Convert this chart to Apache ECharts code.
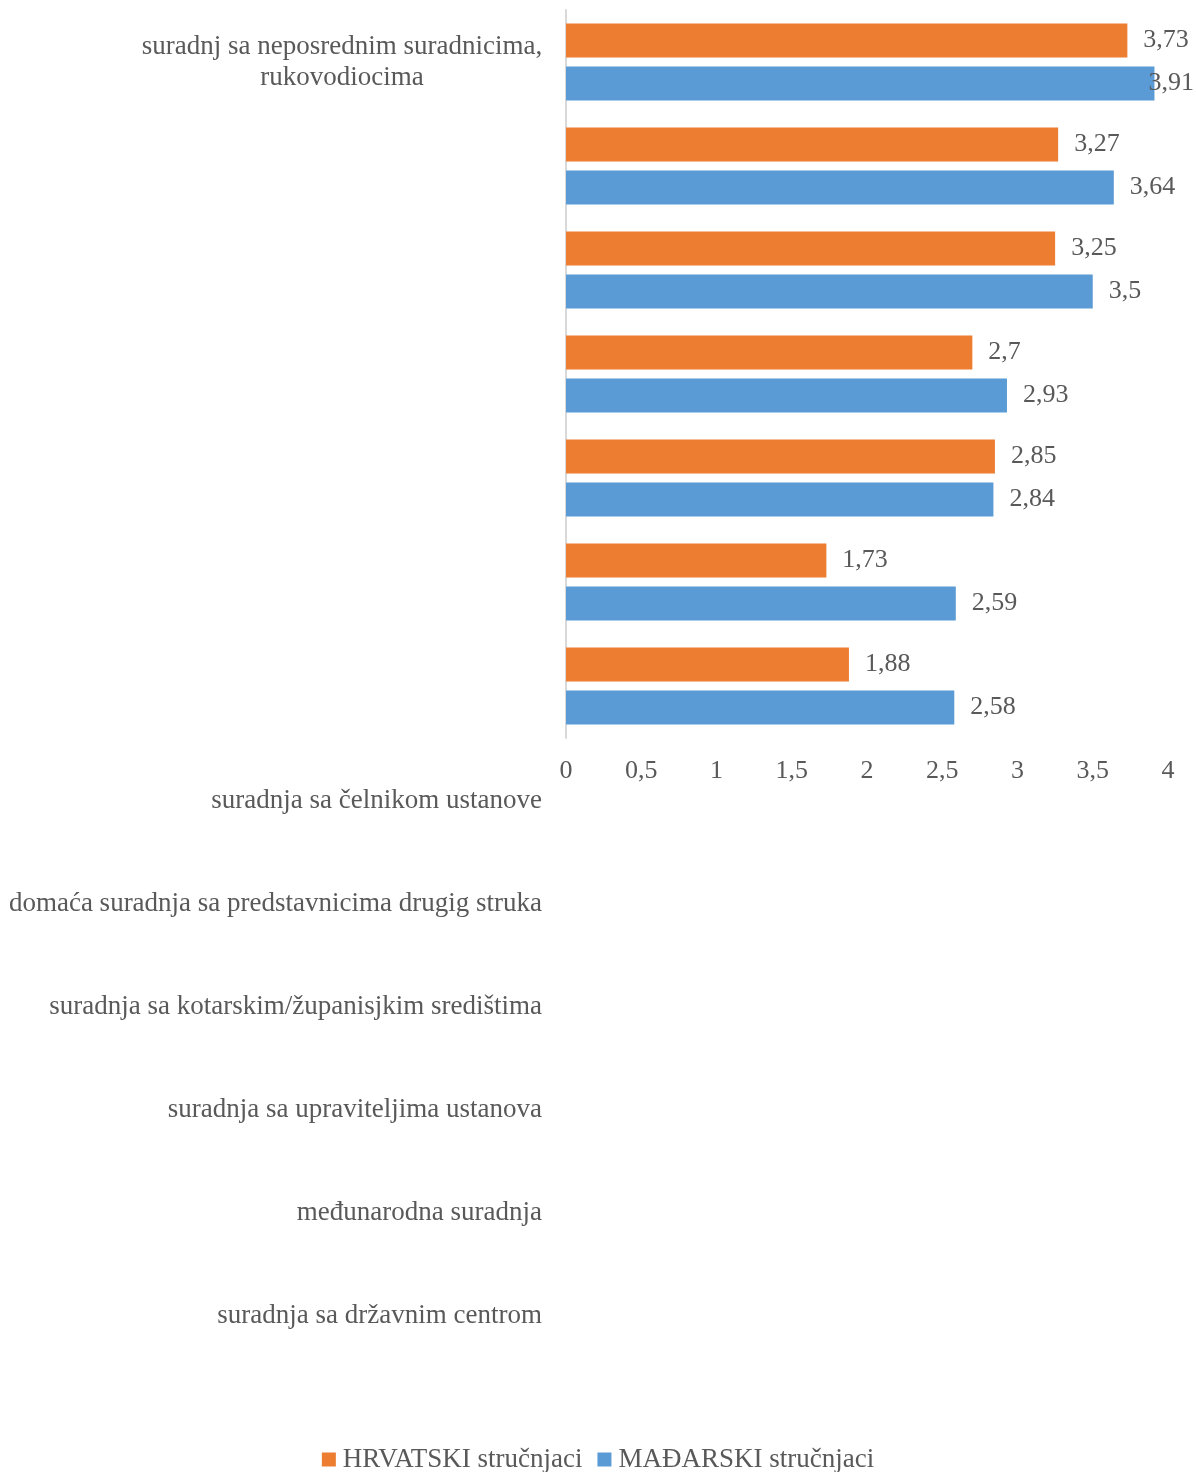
<!DOCTYPE html>
<html>
<head>
<meta charset="utf-8">
<script src="https://cdn.jsdelivr.net/npm/echarts@6/dist/echarts.min.js"></script>
<style>
  html, body { margin: 0; padding: 0; background: #ffffff; }
  #chart { width: 1196px; height: 1472px; }
</style>
</head>
<body>
<div id="chart"></div>
<script>
// Oblici suradnje – prosječne ocjene po skupini stručnjaka
const firstCategory = 'suradnj sa neposrednim suradnicima,\nrukovodiocima';
const otherCategories = [
  'suradnja sa čelnikom ustanove',
  'domaća suradnja sa predstavnicima drugig struka',
  'suradnja sa kotarskim/županisjkim središtima',
  'suradnja sa upraviteljima ustanova',
  'međunarodna suradnja',
  'suradnja sa državnim centrom'
];
const categories = [firstCategory].concat(otherCategories);

const hrvatski = [3.73, 3.27, 3.25, 2.70, 2.85, 1.73, 1.88];
const madarski = [3.91, 3.64, 3.50, 2.93, 2.84, 2.59, 2.58];

const seriesNames = ['HRVATSKI stručnjaci', 'MAĐARSKI stručnjaci'];
const xTicks = { min: 0, max: 4, interval: 0.5 };

const FONT = 'Liberation Serif';
const TEXT = '#595959';
const fmtNum = v => String(v).replace('.', ',');

const chart = echarts.init(document.getElementById('chart'), null, { renderer: 'canvas' });

const valueLabel = {
  show: true,
  position: 'right',
  distance: 16,
  offset: [0, 1],
  fontFamily: FONT,
  fontSize: 26,
  color: TEXT,
  formatter: p => fmtNum(p.value)
};

chart.setOption({
  animation: false,
  backgroundColor: '#ffffff',
  textStyle: { fontFamily: FONT },
  color: ['#ED7D31', '#5B9BD5'],
  legend: {
    top: 1441,
    left: 'center',
    itemWidth: 14,
    itemHeight: 14,
    itemGap: 15,
    icon: 'rect',
    textStyle: { fontFamily: FONT, fontSize: 27, color: TEXT, padding: [0, 0, 0, 2] },
    data: seriesNames
  },
  grid: [
    { left: 566, right: 28, top: 10, height: 728 },
    { left: 566, right: 28, top: 749, height: 618 }
  ],
  xAxis: [
    {
      gridIndex: 0,
      type: 'value',
      min: xTicks.min,
      max: xTicks.max,
      interval: xTicks.interval,
      axisLine: { show: false },
      axisTick: { show: false },
      splitLine: { show: false },
      axisLabel: {
        margin: 20,
        fontFamily: FONT,
        fontSize: 26,
        color: TEXT,
        formatter: v => fmtNum(v)
      }
    },
    {
      gridIndex: 1,
      type: 'value',
      show: false
    }
  ],
  yAxis: [
    {
      gridIndex: 0,
      type: 'category',
      inverse: true,
      data: categories,
      axisLine: { show: true, lineStyle: { color: '#d9d9d9', width: 2 } },
      axisTick: { show: false },
      axisLabel: {
        margin: 224,
        align: 'center',
        fontFamily: FONT,
        fontSize: 27,
        lineHeight: 31,
        color: TEXT,
        formatter: (v, i) => (i === 0 ? v : '')
      }
    },
    {
      gridIndex: 1,
      type: 'category',
      inverse: true,
      data: otherCategories,
      axisLine: { show: false },
      axisTick: { show: false },
      axisLabel: {
        margin: 24,
        fontFamily: FONT,
        fontSize: 27,
        color: TEXT
      }
    }
  ],
  series: [
    {
      name: seriesNames[0],
      type: 'bar',
      xAxisIndex: 0,
      yAxisIndex: 0,
      data: hrvatski,
      barWidth: 34,
      barGap: '26%',
      label: valueLabel
    },
    {
      name: seriesNames[1],
      type: 'bar',
      xAxisIndex: 0,
      yAxisIndex: 0,
      data: madarski,
      barWidth: 34,
      barGap: '26%',
      label: valueLabel
    }
  ],
  // keep value labels inside the canvas at the right edge
  labelLayout: function (params) {
    const r = params.labelRect;
    const limit = 1194;
    if (r && r.x + r.width > limit) {
      return { dx: limit - (r.x + r.width) };
    }
    return {};
  }
});
</script>
</body>
</html>
